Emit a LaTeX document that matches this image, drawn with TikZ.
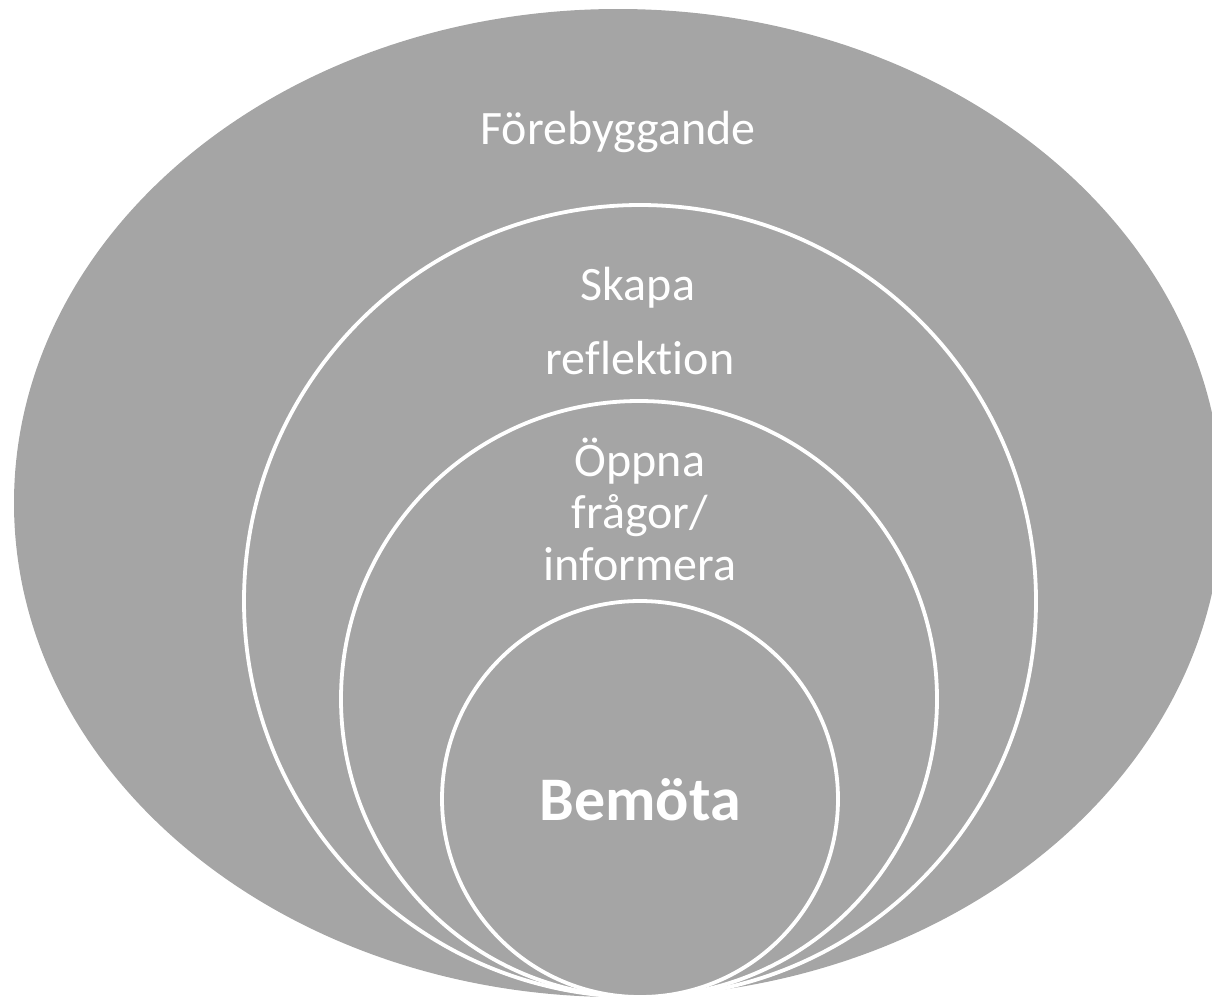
\documentclass[tikz,border=0pt]{standalone}
\usepackage{fontspec}
\setmainfont{Carlito}[Ligatures=NoCommon]
\definecolor{ringgray}{HTML}{A5A5A5}
\begin{document}
\begin{tikzpicture}[x=1pt,y=-1pt,
  ring/.style={fill=ringgray, draw=white, line width=3.8pt},
  lbl/.style={text=white, font=\fontsize{48}{58}\selectfont, anchor=base, inner sep=0pt},
  bold lbl/.style={text=white, font=\fontsize{62}{74}\selectfont\bfseries, anchor=base, inner sep=0pt}]
\useasboundingbox (0,0) rectangle (1212,996);
\begin{scope}
  \clip (0,0) rectangle (1212,996);
  \fill[ringgray] (618,503) ellipse [x radius=604pt, y radius=494pt];
  \draw[ring] (640,601) circle [radius=396pt];
  \draw[ring] (639,699) circle [radius=298pt];
  \draw[ring] (640,799) circle [radius=198pt];
\end{scope}
\node[lbl] (foreb) at (618,144) {Förebyggande};
\node[lbl] (skapa) at (638,300) {Skapa};
\node[lbl] (refl) at (640,374) {reflektion};
\node[lbl] (oppna) at (640,476) {Öppna};
\node[lbl] (fragor) at (640,528) {frågor/};
\node[lbl] (inform) at (640,580) {informera};
\node[bold lbl] (bemota) at (640,820) {Bemöta};
\end{tikzpicture}
\end{document}
